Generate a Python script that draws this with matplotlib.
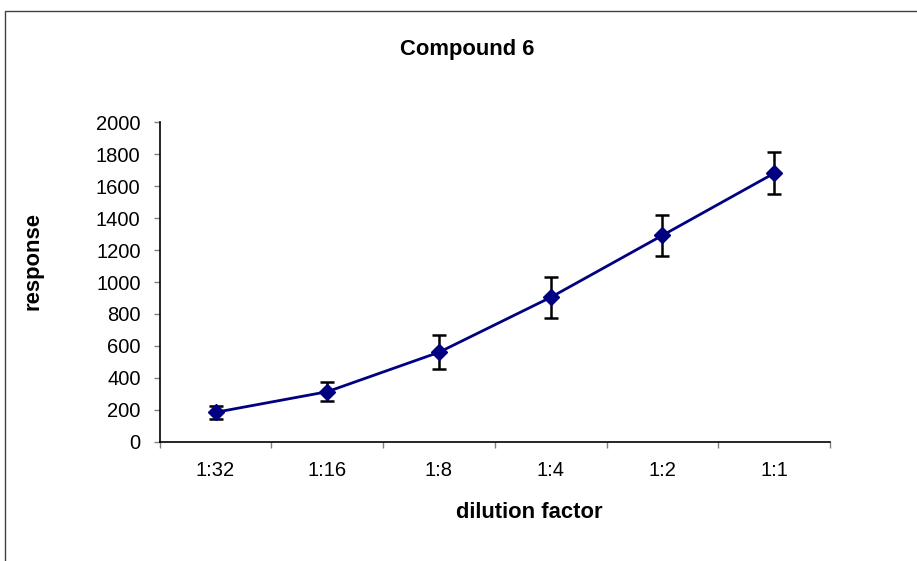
import matplotlib
matplotlib.use("Agg")
import matplotlib.pyplot as plt
from matplotlib.patches import Rectangle

plt.rcParams['font.family'] = ['Liberation Sans', 'DejaVu Sans']

# Dose-response data for compound 6
dilutions = ["1:32", "1:16", "1:8", "1:4", "1:2", "1:1"]
response = [184, 313, 560, 904, 1292, 1681]
response_err = [42, 58, 106, 128, 130, 131]
y_ticks = [0, 200, 400, 600, 800, 1000, 1200, 1400, 1600, 1800, 2000]

W, H = 917, 561
fig = plt.figure(figsize=(W / 100, H / 100), dpi=100)

# Outer chart-area border (open at right and bottom edges)
fig.patches.append(Rectangle((5 / W, -0.1), 1.2, 1.1 - 11 / H,
                             transform=fig.transFigure, fill=False,
                             edgecolor="#404040", linewidth=1.0))

ax = fig.add_axes([159.7 / W, 1 - 441.7 / H, (830 - 159.7) / W, (441.7 - 122.3) / H])

x = list(range(len(dilutions)))
ax.errorbar(x, response, yerr=response_err, color="#000080", linewidth=2,
            marker="D", markersize=8, ecolor="black", elinewidth=1.8,
            capsize=5, capthick=1.8, zorder=3)

ax.set_xlim(-0.5, len(dilutions) - 0.5)
ax.set_ylim(0, 2000)
ax.set_yticks(y_ticks)
ax.set_yticklabels([str(v) for v in y_ticks], fontsize=14.5)

# Category labels centred in slots, ticks on slot boundaries
ax.set_xticks(x)
ax.set_xticklabels(dilutions, fontsize=14.5)
ax.tick_params(axis="x", length=0, pad=14)
ax.set_xticks([i - 0.5 for i in range(len(dilutions) + 1)], minor=True)
ax.tick_params(axis="x", which="minor", length=4.3, color="#808080", width=1)
ax.tick_params(axis="y", length=4.3, color="#808080", width=1, pad=9.5)

for side in ("top", "right"):
    ax.spines[side].set_visible(False)
for side in ("left", "bottom"):
    ax.spines[side].set_color("black")
    ax.spines[side].set_linewidth(1.2)

fig.text(467 / W, 1 - 50 / H, "Compound 6", fontsize=15.8, fontweight="bold",
         ha="center", va="center")
fig.text(529 / W, 1 - 512 / H, "dilution factor", fontsize=15.8,
         fontweight="bold", ha="center", va="center")
fig.text(33 / W, 1 - 261 / H, "response", fontsize=15.8, fontweight="bold",
         ha="center", va="center", rotation=90)

fig.savefig("out.png", dpi=100)
